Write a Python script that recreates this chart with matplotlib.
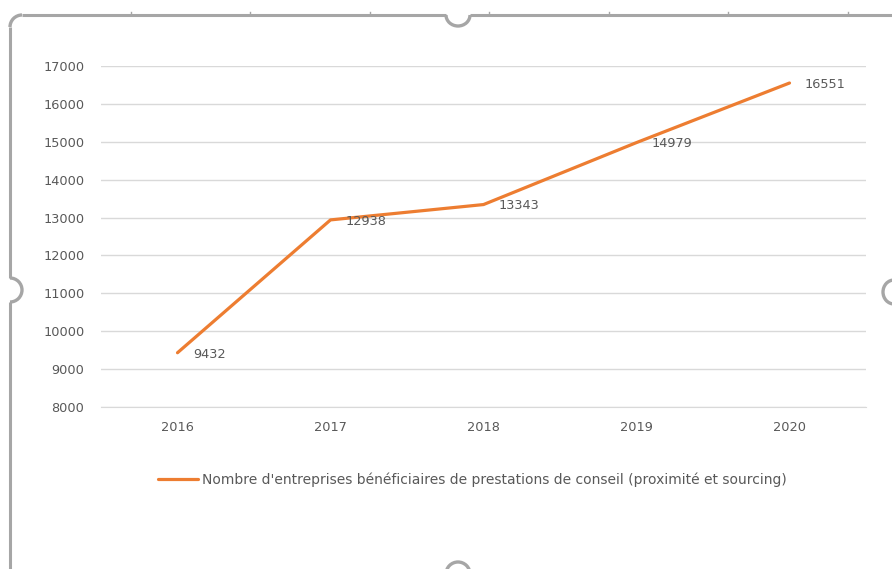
import matplotlib
matplotlib.use("Agg")
import matplotlib.pyplot as plt
from matplotlib.patches import Arc
from matplotlib.lines import Line2D

# data
years  = ["2016", "2017", "2018", "2019", "2020"]
values = [9432, 12938, 13343, 14979, 16551]
series_label = "Nombre d'entreprises bénéficiaires de prestations de conseil (proximité et sourcing)"

W, H = 892, 569
ORANGE = "#ED7D31"
TEXT   = "#595959"
GRID   = "#D9D9D9"
FRAME  = "#A6A6A6"

plt.rcParams["font.family"] = ["DejaVu Sans"]

fig = plt.figure(figsize=(W / 100, H / 100), dpi=100)
fig.patch.set_facecolor("white")

# main plot area (pixel box 101..866 x 66..407)
ax = fig.add_axes([101 / W, 1 - 407 / H, (866 - 101) / W, (407 - 66) / H])
x = list(range(len(years)))
line, = ax.plot(x, values, color=ORANGE, linewidth=2.3, solid_capstyle="round",
                label=series_label, zorder=3)

for xi, v in zip(x, values):
    ax.annotate(str(v), (xi, v), xytext=(11, -1), textcoords="offset points",
                ha="left", va="center", fontsize=9.3, color=TEXT)

ax.set_xlim(-0.5, len(years) - 0.5)
ax.set_ylim(8000, 17000)
ax.set_yticks(range(8000, 17001, 1000))
ax.set_xticks(x)
ax.set_xticklabels(years)
ax.grid(axis="y", color=GRID, linewidth=1)
ax.set_axisbelow(True)
for s in ["top", "right", "left"]:
    ax.spines[s].set_visible(False)
ax.spines["bottom"].set_color(GRID)
ax.tick_params(axis="both", length=0, labelsize=9.3, colors=TEXT)
ax.tick_params(axis="y", pad=12)
ax.tick_params(axis="x", pad=10)

fig.legend(handles=[line], labels=[series_label], loc="center",
           bbox_to_anchor=(472 / W, 1 - 480 / H), frameon=False,
           fontsize=10, labelcolor=TEXT, handlelength=2.9, handletextpad=0.25)

# selection frame drawn on an overlay in pixel coordinates
ov = fig.add_axes([0, 0, 1, 1], facecolor="none")
ov.set_xlim(0, W)
ov.set_ylim(H, 0)
ov.axis("off")
fkw = dict(color=FRAME, linewidth=2.2, solid_capstyle="butt")
ov.add_line(Line2D([22, 446], [15, 15], **fkw))
ov.add_line(Line2D([470, W], [15, 15], **fkw))
ov.add_line(Line2D([10, 10], [27, 278], **fkw))
ov.add_line(Line2D([10, 10], [302, H], **fkw))
for tx in [131, 250, 370, 489, 609, 728, 848]:
    ov.add_line(Line2D([tx, tx], [12, 15], color=FRAME, linewidth=1))
akw = dict(color=FRAME, linewidth=2.4)
ov.add_patch(Arc((22, 27), 24, 24, theta1=180, theta2=270, **akw))
ov.add_patch(Arc((458, 15), 24, 22, theta1=0, theta2=180, **akw))
ov.add_patch(Arc((10, 290), 24, 24, theta1=270, theta2=450, **akw))
ov.add_patch(Arc((894, 292), 22, 24, theta1=90, theta2=270, **akw))
ov.add_patch(Arc((458, 574), 24, 24, theta1=180, theta2=360, **akw))

fig.savefig("out.png", dpi=100)
